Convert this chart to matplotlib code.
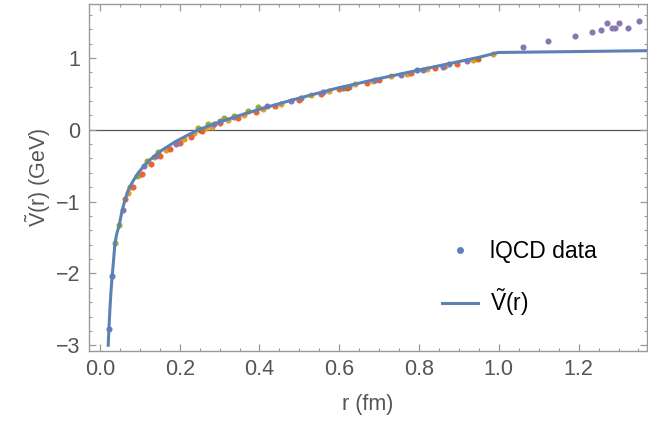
import matplotlib
matplotlib.use('Agg')
import matplotlib.pyplot as plt
from matplotlib.lines import Line2D
from matplotlib.ticker import MultipleLocator, FormatStrFormatter

plt.rcParams['font.family'] = ['Liberation Sans', 'DejaVu Sans']
plt.rcParams['mathtext.fontset'] = 'custom'
plt.rcParams['mathtext.rm'] = 'Liberation Sans'
plt.rcParams['mathtext.it'] = 'Liberation Sans:italic'

# lattice data, one list pair per colour set
blue_r = [0.0225, 0.031, 0.335, 0.505, 0.61, 0.795, 0.875]
blue_v = [-2.78, -2.03, 0.175, 0.445, 0.585, 0.83, 0.915]

green_r = [0.0375, 0.0483, 0.075, 0.092, 0.118, 0.145, 0.245, 0.27, 0.31, 0.335, 0.37, 0.395]
green_v = [-1.57, -1.33, -0.80, -0.64, -0.43, -0.31, 0.02, 0.075, 0.165, 0.19, 0.255, 0.315]

red_r = [0.063, 0.082, 0.105, 0.128, 0.15, 0.175, 0.2, 0.228, 0.255, 0.3, 0.345,
         0.39, 0.44, 0.5, 0.555, 0.6, 0.67, 0.7, 0.78, 0.84, 0.895]
red_v = [-0.97, -0.80, -0.62, -0.48, -0.36, -0.27, -0.19, -0.10, -0.02, 0.09, 0.16,
         0.245, 0.325, 0.42, 0.50, 0.56, 0.655, 0.69, 0.795, 0.855, 0.92]

orange_r = [0.07, 0.098, 0.135, 0.165, 0.21, 0.235, 0.265, 0.28, 0.32, 0.36, 0.41,
            0.455, 0.53, 0.575, 0.64, 0.685, 0.73, 0.77, 0.82, 0.865, 0.935, 0.985]
orange_v = [-0.88, -0.63, -0.38, -0.28, -0.13, -0.05, 0.02, 0.04, 0.13, 0.20, 0.285,
            0.36, 0.49, 0.545, 0.63, 0.68, 0.745, 0.775, 0.84, 0.885, 0.975, 1.06]

purple_r = [0.0568, 0.11, 0.14, 0.19, 0.285, 0.3, 0.42, 0.48, 0.56, 0.625, 0.69, 0.755,
            0.81, 0.86, 0.92, 1.061, 1.124, 1.191, 1.233, 1.256, 1.270, 1.283, 1.291,
            1.302, 1.323, 1.351]
purple_v = [-1.12, -0.50, -0.36, -0.20, 0.085, 0.12, 0.33, 0.40, 0.525, 0.60, 0.69, 0.765,
            0.825, 0.88, 0.955, 1.157, 1.236, 1.310, 1.357, 1.385, 1.486, 1.412, 1.412,
            1.486, 1.412, 1.514]

brown_r = [0.25, 0.62, 0.949]
brown_v = [-0.005, 0.575, 0.986]

# fitted potential
fit_r = [0.0207, 0.0225, 0.025, 0.0275, 0.030, 0.0335, 0.0375, 0.042, 0.0483, 0.055,
         0.0626, 0.0709, 0.0834, 0.096, 0.1126, 0.125, 0.154, 0.175, 0.188, 0.225,
         0.25, 0.292, 0.342, 0.40, 0.484, 0.592, 0.701, 0.788, 0.901, 0.95, 0.998, 1.372]
fit_v = [-3.00, -2.77, -2.50, -2.27, -2.08, -1.86, -1.59, -1.45, -1.33, -1.14,
         -0.98, -0.84, -0.71, -0.60, -0.49, -0.42, -0.29, -0.215, -0.17, -0.06,
         0.005, 0.093, 0.185, 0.285, 0.417, 0.575, 0.713, 0.817, 0.95, 1.008, 1.075, 1.10]

sets = [(blue_r, blue_v, '#5E81B5'), (orange_r, orange_v, '#E19C24'),
        (green_r, green_v, '#8FB032'), (red_r, red_v, '#EB6235'),
        (purple_r, purple_v, '#8778B3'), (brown_r, brown_v, '#C56E1A')]

fig = plt.figure(figsize=(6.48, 4.34), dpi=100)
ax = fig.add_axes([0.1373, 0.1912, 0.8615, 0.7996])

ax.axhline(0, color='#555555', lw=0.9, zorder=1)
for rr, vv, c in sets:
    ax.plot(rr, vv, 'o', color=c, ms=4.4, mec='none', zorder=2)
ax.plot(fit_r, fit_v, color='#5E81B5', lw=2.2, zorder=3, solid_joinstyle='round')

ax.set_xlim(-0.0275, 1.372)
ax.set_ylim(-3.08, 1.75)

grey = '#999999'
txt = '#555555'
for s in ax.spines.values():
    s.set_color(grey)
    s.set_linewidth(1.0)
ax.xaxis.set_major_locator(MultipleLocator(0.2))
ax.xaxis.set_minor_locator(MultipleLocator(0.05))
ax.xaxis.set_major_formatter(FormatStrFormatter('%.1f'))
ax.yaxis.set_major_locator(MultipleLocator(1))
ax.yaxis.set_minor_locator(MultipleLocator(0.2))
ax.tick_params(which='both', direction='in', top=True, right=True, color=grey,
               labelcolor=txt, labelsize=15.5)
ax.tick_params(which='major', length=4.8, width=0.9, pad=6)
ax.tick_params(which='minor', length=2.4, width=0.8)

ax.set_xlabel('r (fm)', fontsize=15.5, color=txt, labelpad=10)
ax.set_ylabel(r'$\tilde{\mathrm{V}}\mathrm{(r)\ (GeV)}$', fontsize=15.5, color=txt, labelpad=2)

handles = [Line2D([], [], marker='o', ls='', color='#5E81B5', ms=5, mec='none'),
           Line2D([], [], color='#5E81B5', lw=2.2)]
ax.legend(handles, ['lQCD data', r'$\tilde{\mathrm{V}}\mathrm{(r)}$'],
          loc='upper left', bbox_to_anchor=(0.595, 0.38), frameon=False,
          fontsize=16.5, handlelength=1.6, handletextpad=0.5, labelspacing=1.0)

fig.savefig('out.png', dpi=100)
